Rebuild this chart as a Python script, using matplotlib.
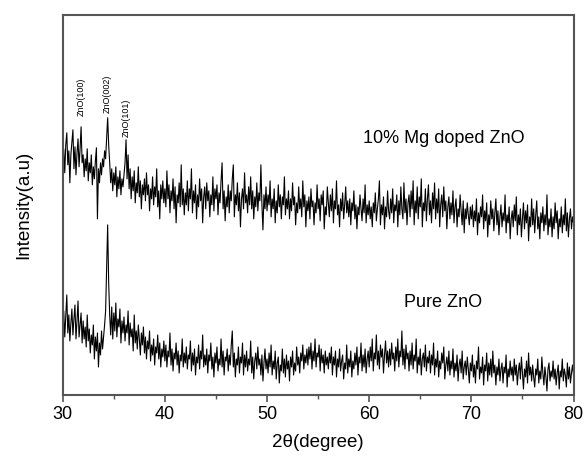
import numpy as np
import matplotlib
matplotlib.use("Agg")
import matplotlib.pyplot as plt
from matplotlib.ticker import MultipleLocator

plt.rcParams["font.family"] = ["Liberation Sans", "DejaVu Sans"]

# 2theta scan grid, 0.1 degree steps from 30 to 80
two_theta = np.linspace(30, 80, 501)

# 10% Mg doped ZnO (arbitrary intensity units)
mg_doped = [
    228, 246, 222, 250, 262, 230, 244, 212, 240, 252, 265, 226, 248, 220, 242, 256, 228, 246, 268, 232,
    240, 218, 236, 224, 246, 214, 232, 222, 240, 210, 228, 216, 234, 247, 176, 226, 212, 232, 220, 236,
    228, 244, 236, 256, 277, 250, 232, 212, 226, 204, 222, 210, 228, 198, 218, 206, 224, 200, 216, 208,
    220, 232, 255, 216, 240, 206, 226, 196, 218, 204, 224, 192, 212, 202, 228, 198, 214, 186, 210, 200,
    216, 194, 222, 200, 210, 184, 206, 196, 218, 190, 208, 198, 226, 188, 204, 176, 210, 196, 214, 192,
    206, 188, 224, 196, 210, 182, 204, 194, 216, 186, 208, 172, 200, 192, 212, 188, 230, 190, 206, 180,
    202, 190, 214, 184, 206, 196, 226, 182, 204, 192, 210, 176, 200, 188, 216, 194, 206, 172, 198, 208,
    186, 212, 194, 204, 178, 200, 190, 218, 184, 206, 196, 210, 180, 202, 192, 214, 232, 186, 204, 174,
    198, 188, 210, 182, 204, 194, 216, 230, 178, 200, 190, 212, 184, 202, 168, 196, 206, 186, 222, 192,
    200, 182, 208, 190, 218, 186, 204, 176, 198, 188, 212, 184, 202, 194, 230, 190, 165, 200, 186, 208,
    184, 200, 190, 214, 178, 196, 186, 206, 172, 194, 182, 210, 188, 200, 176, 198, 190, 218, 180, 196,
    186, 204, 176, 196, 184, 212, 190, 198, 170, 192, 182, 208, 186, 196, 178, 214, 188, 200, 168, 194,
    184, 198, 176, 206, 188, 194, 170, 192, 182, 210, 186, 196, 174, 200, 190, 204, 166, 188, 180, 208,
    192, 178, 200, 184, 206, 172, 194, 186, 214, 180, 190, 168, 196, 184, 202, 176, 190, 208, 182, 194,
    178, 196, 170, 192, 184, 204, 176, 190, 166, 188, 180, 200, 186, 174, 196, 182, 210, 172, 190, 180,
    194, 176, 188, 168, 192, 182, 202, 174, 186, 196, 214, 170, 190, 180, 198, 166, 188, 178, 204, 184,
    176, 196, 182, 206, 172, 190, 184, 200, 168, 194, 180, 208, 186, 176, 212, 182, 196, 170, 192, 200,
    178, 204, 186, 214, 170, 194, 182, 208, 176, 198, 188, 216, 168, 192, 184, 206, 174, 196, 210, 180,
    194, 172, 202, 186, 212, 176, 196, 182, 206, 168, 190, 200, 178, 208, 184, 194, 166, 188, 198, 176,
    192, 180, 204, 172, 188, 196, 168, 186, 178, 200, 184, 170, 194, 162, 186, 176, 192, 180, 170, 188,
    176, 190, 168, 184, 174, 196, 160, 182, 172, 188, 178, 200, 166, 184, 174, 192, 158, 180, 170, 194,
    176, 186, 164, 182, 196, 170, 184, 160, 178, 190, 168, 182, 174, 200, 162, 180, 172, 188, 156, 176,
    184, 168, 190, 174, 198, 160, 180, 170, 186, 158, 176, 192, 166, 184, 172, 190, 154, 178, 168, 196,
    170, 186, 162, 180, 194, 166, 178, 156, 182, 172, 188, 164, 180, 170, 200, 160, 176, 168, 186, 158,
    178, 166, 192, 172, 184, 156, 176, 168, 188, 162, 180, 170, 196, 164, 182, 158, 176, 186, 166, 178,
    172,
]

# Pure ZnO
pure = [
    66, 84, 58, 78, 100, 62, 80, 54, 72, 86, 60, 76, 90, 56, 74, 94, 58, 70, 82, 52,
    74, 56, 68, 48, 80, 54, 66, 42, 60, 50, 70, 36, 58, 44, 62, 28, 52, 40, 64, 46,
    58, 70, 84, 128, 170, 112, 80, 60, 88, 56, 82, 64, 92, 58, 76, 68, 86, 52, 74, 62,
    78, 54, 70, 62, 84, 50, 72, 58, 66, 44, 80, 52, 64, 46, 70, 56, 40, 62, 50, 68,
    42, 58, 36, 54, 46, 64, 34, 50, 40, 56, 30, 48, 42, 60, 36, 52, 28, 46, 38, 54,
    34, 50, 28, 44, 38, 62, 30, 46, 24, 42, 36, 52, 30, 44, 22, 40, 34, 56, 28, 42,
    32, 48, 26, 40, 36, 54, 24, 42, 30, 46, 20, 38, 32, 50, 26, 44, 36, 60, 28, 40,
    30, 46, 22, 40, 34, 52, 26, 38, 18, 42, 32, 48, 24, 36, 30, 56, 28, 44, 20, 38,
    34, 46, 24, 40, 30, 50, 64, 28, 42, 18, 36, 30, 48, 22, 38, 32, 52, 20, 40, 28,
    44, 24, 36, 30, 54, 22, 38, 16, 34, 42, 26, 48, 30, 36, 20, 40, 14, 32, 46, 26,
    36, 22, 42, 28, 50, 20, 34, 26, 44, 16, 32, 38, 12, 30, 24, 46, 22, 36, 18, 40,
    26, 34, 14, 38, 28, 44, 20, 32, 24, 48, 30, 38, 22, 42, 34, 50, 26, 40, 32, 46,
    30, 48, 36, 52, 26, 44, 34, 56, 28, 42, 38, 50, 24, 46, 32, 40, 22, 44, 30, 38,
    26, 42, 32, 48, 20, 38, 30, 44, 18, 36, 28, 46, 24, 34, 40, 16, 32, 26, 50, 22,
    36, 28, 44, 18, 34, 26, 42, 30, 48, 20, 38, 32, 52, 24, 40, 28, 46, 22, 36, 44,
    28, 48, 34, 56, 24, 42, 36, 60, 30, 44, 26, 50, 38, 46, 22, 40, 54, 32, 44, 28,
    46, 30, 52, 36, 42, 24, 48, 34, 56, 28, 44, 38, 64, 30, 46, 26, 50, 36, 42, 24,
    44, 30, 52, 26, 40, 34, 56, 22, 38, 30, 46, 20, 36, 42, 28, 50, 24, 38, 32, 44,
    22, 40, 30, 52, 20, 36, 28, 44, 18, 34, 26, 42, 32, 48, 16, 30, 38, 24, 44, 20,
    34, 26, 46, 18, 32, 24, 40, 14, 30, 36, 22, 44, 16, 28, 34, 20, 38, 26, 12, 32,
    24, 40, 18, 30, 12, 34, 26, 48, 16, 28, 22, 38, 10, 30, 24, 42, 14, 32, 20, 36,
    18, 44, 22, 30, 10, 28, 20, 36, 14, 26, 32, 12, 28, 22, 40, 8, 26, 18, 34, 20,
    28, 14, 36, 20, 30, 10, 24, 32, 16, 38, 22, 6, 26, 18, 34, 12, 42, 20, 28, 14,
    30, 18, 8, 26, 20, 36, 12, 24, 16, 38, 22, 10, 28, 18, 4, 26, 32, 14, 24, 18,
    34, 16, 26, 10, 22, 30, 6, 24, 18, 36, 14, 26, 20, 8, 32, 16, 28, 12, 22, 30,
    20,
]

peak_pos = [31.8, 34.4, 36.2]
peak_text = ["ZnO(100)", "ZnO(002)", "ZnO(101)"]
peak_text_y = [279, 282, 258]

fig = plt.figure(figsize=(5.86, 4.59), dpi=100)
ax = fig.add_axes([0.107, 0.1394, 0.8717, 0.8286])

ax.plot(two_theta, mg_doped, color="black", lw=0.8)
ax.plot(two_theta, pure, color="black", lw=0.8)

for p, t, ty in zip(peak_pos, peak_text, peak_text_y):
    ax.text(p, ty, t, rotation=90, ha="center", va="bottom", fontsize=6.5)

ax.text(59.35, 256, "10% Mg doped ZnO", fontsize=13, va="center")
ax.text(63.45, 92, "Pure ZnO", fontsize=13, va="center")

ax.set_xlim(30, 80)
ax.set_ylim(0, 380)
ax.xaxis.set_major_locator(MultipleLocator(10))
ax.xaxis.set_minor_locator(MultipleLocator(5))
ax.set_yticks([])
ax.tick_params(axis="x", which="major", direction="out", length=5, width=1.2,
               color="#555555", labelsize=13, pad=3)
ax.tick_params(axis="x", which="minor", direction="out", length=3, width=1.0,
               color="#555555")
for s in ax.spines.values():
    s.set_color("#555555")
    s.set_linewidth(1.5)

ax.set_xlabel("2θ(degree)", fontsize=13.5, labelpad=8)
ax.set_ylabel("Intensity(a.u)", fontsize=13.5, labelpad=22)

fig.savefig("out.png", dpi=100)
